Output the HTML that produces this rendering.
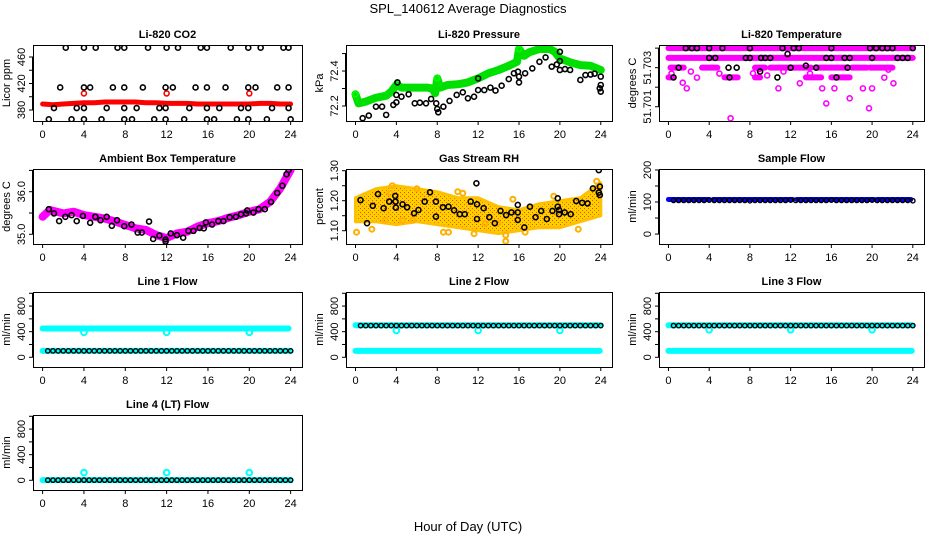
<!DOCTYPE html>
<html><head><meta charset="utf-8"><title>SPL_140612 Average Diagnostics</title>
<style>
html,body{margin:0;padding:0;background:#fff;}
svg{display:block;font-family:"Liberation Sans",Arial,sans-serif;}
</style></head>
<body>
<svg id="chart" width="936" height="540" viewBox="0 0 936 540" xmlns="http://www.w3.org/2000/svg">
<defs>
<pattern id="rhpat" width="4" height="4" patternUnits="userSpaceOnUse">
<rect width="4" height="4" fill="#ffd000"/><rect x="0" y="0" width="1" height="1" fill="#ff4000"/><rect x="2" y="2" width="1" height="1" fill="#ff6000"/>
</pattern>
</defs>
<text x="468" y="13" text-anchor="middle" font-size="13">SPL_140612  Average Diagnostics</text>
<text x="468" y="531" text-anchor="middle" font-size="13">Hour of Day (UTC)</text>
</svg>
<script>
// ---------- data ----------
const xTicks = [0,4,8,12,16,20,24];
const halfHours = [0.5,1,1.5,2,2.5,3,3.5,4,4.5,5,5.5,6,6.5,7,7.5,8,8.5,9,9.5,10,10.5,11,11.5,12,12.5,13,13.5,14,14.5,15,15.5,16,16.5,17,17.5,18,18.5,19,19.5,20,20.5,21,21.5,22,22.5,23,23.5,24];

// CO2
const co2RedHours = [0,1,2,3,4,5,6,7,8,9,10,11,12,13,14,15,16,17,18,19,20,21,22,23,24];
const co2RedVals  = [389,388,389,390,391,391,392,392,392,392,391,391,390,390,390,389,389,389,389,389,389,390,390,389,389];
const co2RedOutHours = [4,12,20];
const co2RedOutVals = [405,405,405];
const co2BlackHours = [2.24,4.0,5.14,7.25,7.9,10.2,12.0,13.1,15.3,15.9,18.2,19.9,21.1,23.3,23.8,
 1.7,4.0,4.6,6.8,7.9,9.7,11.9,12.6,14.8,15.9,17.7,19.9,20.6,22.7,23.8,
 1.1,3.3,4.0,6.2,7.9,9.1,11.3,11.9,14.2,15.9,17.1,19.2,19.9,22.2,23.8,
 0.6,2.8,4.0,5.7,7.9,8.65,10.8,11.9,13.7,15.9,16.6,18.8,19.9,21.7,24.0];
const co2BlackVals = [474,474,474,474,474,474,474,474,474,474,474,474,474,474,474,
 414,414,414,414,414,414,414,414,414,414,414,414,414,414,414,
 383,383,383,383,383,383,383,383,383,383,383,383,383,383,383,
 366,366,366,366,366,366,366,366,366,366,366,366,366,366,366];

// Pressure
const presGreenHours = [0,0.3,1,2,3,3.5,4,4.5,5,6,7,7.5,7.8,8,8.3,9,10,11,12,13,14,15,15.8,16,16.5,17,18,19,19.5,20,21,22,23,24];
const presGreenVals  = [72.267,72.215,72.225,72.247,72.259,72.282,72.32,72.305,72.305,72.305,72.305,72.300,72.273,72.358,72.305,72.32,72.324,72.335,72.358,72.387,72.406,72.43,72.453,72.526,72.487,72.507,72.526,72.526,72.51,72.472,72.45,72.434,72.43,72.406];
const presBlackHours = [0.7,1.3,2.0,2.6,3.0,3.7,4.0,4.0,4.1,4.5,5.2,5.8,6.3,6.9,7.4,7.9,8.0,8.1,8.6,9.2,9.9,10.5,11.0,11.6,12.0,12.0,12.6,13.2,13.7,14.3,15.0,15.5,15.9,16.0,16.0,16.6,17.3,18.0,18.6,19.2,19.7,20.0,20.0,20.0,20.5,21.0,22.0,22.5,23.0,23.4,24.0,24.0,24.0,23.9];
const presBlackVals  = [72.130,72.145,72.196,72.196,72.149,72.206,72.221,72.263,72.335,72.253,72.267,72.215,72.219,72.215,72.240,72.215,72.183,72.164,72.196,72.229,72.263,72.278,72.244,72.253,72.291,72.358,72.291,72.305,72.288,72.316,72.354,72.387,72.396,72.368,72.335,72.387,72.415,72.453,72.478,72.425,72.438,72.406,72.457,72.510,72.411,72.406,72.349,72.377,72.380,72.385,72.368,72.320,72.282,72.301];

// Li-820 temperature
const tempBandLevels = [51.7040,51.7035,51.7030,51.7030,51.7030,51.7030,51.7030,51.7030,51.7030,51.7025,51.7025,51.7025,51.7025,51.7025];
const tempBandStart  = [0,0,0.2,3.3,8.5,10,14.5,18,19.8,0,5.5,8.5,13.5,16];
const tempBandEnd    = [24,24,1.5,4.8,9.5,14,17.5,19.5,22,0.5,6.8,9,15,17.8];
const tempScatHours = [1.4,1.8,2.8,6.1,8.3,10.8,12.9,15.1,15.5,16.3,17.8,19.1,19.7,20.0,22.1,21.2,8.9,0.3,2.2,5.0,9.7,11.3,13.9,21.6];
const tempScatVals  = [51.70223,51.70194,51.70249,51.70041,51.70271,51.70194,51.7022,51.70194,51.70117,51.70194,51.70143,51.70194,51.70092,51.70194,51.7022,51.70249,51.70293,51.7027,51.7028,51.7027,51.7026,51.7028,51.7027,51.7029];
const tempBlackHours = [1.7,2.3,2.8,4.0,5.3,8.0,11.2,12.3,12.8,16.0,19.8,20.4,21.0,21.5,22.0,24.0,
 4.0,4.6,7.6,8.0,9.1,9.5,10.0,15.5,16.0,17.3,17.8,20.0,22.5,23.0,23.5,
 1.0,5.9,6.7,12.0,13.5,14.5,17.6,0.5,6.0,10.7,16.5,9.0,11.7];
const tempBlackVals = [51.704,51.704,51.704,51.704,51.704,51.704,51.704,51.704,51.704,51.704,51.704,51.704,51.704,51.704,51.704,51.704,
 51.7035,51.7035,51.7035,51.7035,51.7035,51.7035,51.7035,51.7035,51.7035,51.7035,51.7035,51.7035,51.7035,51.7035,51.7035,
 51.703,51.703,51.703,51.703,51.7031,51.703,51.703,51.7025,51.7025,51.7025,51.7025,51.7028,51.7037];

// Ambient box temperature
const ambHours = [0,0.7,2,3,4,5,6,7,8,9,10,11,12,13,14,15,16,17,18,19,20,21,22,23,24];
const ambVals  = [35.41,35.57,35.49,35.53,35.45,35.41,35.37,35.30,35.22,35.14,35.10,34.98,34.91,35.02,35.06,35.18,35.26,35.31,35.39,35.45,35.53,35.59,35.76,36.08,36.51];
const ambBlackHours = [0.6,1.1,1.6,2.2,2.8,3.3,3.9,4.6,5.1,5.6,6.2,6.7,7.2,7.9,8.6,9.2,9.6,10.3,10.7,11.3,11.9,11.9,12.4,13.0,13.6,14.1,14.6,15.2,15.6,15.8,16.4,17.0,17.5,18.1,18.7,19.2,19.7,19.8,20.4,20.9,21.5,22.1,22.7,23.2,23.6,23.8];
const ambBlackVals  = [35.59,35.49,35.31,35.41,35.45,35.31,35.43,35.27,35.41,35.33,35.41,35.20,35.33,35.19,35.23,35.04,35.04,35.30,34.89,34.97,34.88,34.83,35.02,34.98,34.92,35.08,35.08,35.15,35.14,35.28,35.23,35.31,35.31,35.40,35.41,35.47,35.49,35.56,35.51,35.59,35.59,35.76,35.97,36.14,36.41,36.51];

// Gas stream RH
const rhBandHours = [0,2,4,6,8,10,12,14,16,18,20,22,24];
const rhUpper = [1.21,1.24,1.25,1.24,1.23,1.21,1.21,1.18,1.17,1.19,1.20,1.21,1.26];
const rhLower = [1.13,1.13,1.12,1.13,1.12,1.11,1.10,1.09,1.10,1.11,1.11,1.13,1.15];
const rhScatHours = [0.1,1.6,2.9,3.6,4.6,5.6,6.0,8.6,9.1,10.0,11.6,12.7,13.9,14.7,14.7,15.4,16.6,19.4,21.8,23.6,3.4,10.5];
const rhScatVals  = [1.095,1.105,1.135,1.25,1.135,1.135,1.24,1.095,1.095,1.23,1.09,1.125,1.125,1.085,1.065,1.205,1.095,1.215,1.105,1.265,1.225,1.225];
const rhBlackHours = [0.49,1.13,1.69,2.2,2.75,3.3,3.89,3.92,3.95,4.6,5.05,5.73,6.16,6.77,7.29,7.87,7.87,8.55,9.1,9.65,10.2,10.69,11.27,11.83,11.89,11.89,12.54,13.1,13.63,14.19,14.74,15.26,15.88,15.88,15.88,16.52,17.07,17.62,18.17,18.72,19.27,19.79,19.79,19.92,19.92,20.47,21.06,21.6,22.18,22.71,23.23,23.81,23.81,23.91,23.91];
const rhBlackVals  = [1.202,1.125,1.183,1.222,1.175,1.197,1.216,1.197,1.177,1.188,1.178,1.158,1.169,1.197,1.228,1.197,1.147,1.178,1.18,1.168,1.155,1.155,1.197,1.258,1.188,1.139,1.175,1.145,1.125,1.166,1.152,1.161,1.186,1.161,1.136,1.111,1.18,1.145,1.166,1.139,1.166,1.208,1.18,1.169,1.155,1.161,1.155,1.199,1.193,1.191,1.241,1.302,1.227,1.247,1.219];

// Sample flow
const sampleBandStart = [0,4.4,12.6,20.5];
const sampleBandEnd   = [4.0,12.2,20.2,23.8];
const sampleBandLevel = [108,108,108,108];
const sampleBlackVals = [105,105,105,105,105,105,105,106,105,105,105,105,105,105,105,104,105,105,105,105,105,105,105,106,105,105,105,105,105,105,105,106,105,105,105,105,105,105,105,106,105,105,105,105,105,105,105,104];

// Line flows
const line1CyanStart = [0,0];
const line1CyanEnd   = [23.8,24];
const line1CyanLevel = [450,100];
const line1OutHours = [4,12,20];
const line1OutVals  = [390,390,390];
const line1BlackVals = [100,100,100,100,100,100,100,100,100,100,100,100,100,100,100,100,100,100,100,100,100,100,100,100,100,100,100,100,100,100,100,100,100,100,100,100,100,100,100,100,100,100,100,100,100,100,100,100];

const line2CyanStart = [0,0];
const line2CyanEnd   = [24,23.9];
const line2CyanLevel = [500,100];
const line2OutHours = [4,12,20];
const line2OutVals  = [420,420,420];
const line2BlackVals = [495,495,495,495,495,495,495,495,495,495,495,495,495,495,495,495,495,495,495,495,495,495,495,495,495,495,495,495,495,495,495,495,495,495,495,495,495,495,495,495,495,495,495,495,495,495,495,495];

const line3CyanStart = [0,0];
const line3CyanEnd   = [23.9,23.9];
const line3CyanLevel = [500,100];
const line3OutHours = [4,12,20];
const line3OutVals  = [430,430,430];
const line3BlackVals = [495,495,495,495,495,495,495,495,495,495,495,495,495,495,495,495,495,495,495,495,495,495,495,495,495,495,495,495,495,495,495,495,495,495,495,495,495,495,495,495,495,495,495,495,495,495,495,495];

const line4CyanStart = [0];
const line4CyanEnd   = [24];
const line4CyanLevel = [3];
const line4OutHours = [4,12,20];
const line4OutVals  = [120,120,120];
const line4BlackVals = [2,2,2,2,2,2,2,2,2,2,2,2,2,2,2,2,2,2,2,2,2,2,2,2,2,2,2,2,2,2,2,2,2,2,2,2,2,2,2,2,2,2,2,2,2,2,2,2];

// ---------- drawing ----------
const NS = 'http://www.w3.org/2000/svg';
const svg = document.getElementById('chart');
function mk(tag, attrs, parent){
  const e = document.createElementNS(NS, tag);
  for (const k in attrs) e.setAttribute(k, attrs[k]);
  (parent||svg).appendChild(e);
  return e;
}
const XD = [-0.93, 25.1];
const COLS = [{x:33,w:269},{x:346,w:266},{x:659,w:265}];
const ROWS = [{y:45,h:76},{y:169,h:75},{y:292,h:75},{y:415,h:75}];

function panel(c, r, name, title, ylab, yd, yticks, ylabels){
  const g = mk('g', {});
  
  
  const X0 = COLS[c].x, W = COLS[c].w, Y0 = ROWS[r].y, H = ROWS[r].h;
  const sx = v => X0 + (v - XD[0]) / (XD[1]-XD[0]) * W;
  const sy = v => Y0 + H - (v - yd[0]) / (yd[1]-yd[0]) * H;
  const t = mk('text', {x: X0 + W/2, y: Y0 - 7, 'text-anchor':'middle', 'font-size':11, 'font-weight':'bold'}, g);
  t.textContent = title;
  
  
  const ax = mk('g', {}, g);
  
  
  mk('line', {x1:sx(0), x2:sx(24), y1:Y0+H+0.5, y2:Y0+H+0.5, stroke:'#000'}, ax);
  xTicks.forEach(v => {
    mk('line', {x1:sx(v), x2:sx(v), y1:Y0+H, y2:Y0+H+4, stroke:'#000'}, ax);
    const tl = mk('text', {x:sx(v), y:Y0+H+17, 'text-anchor':'middle', 'font-size':11}, ax);
    tl.textContent = v;
    
    
  });
  const ay = mk('g', {}, g);
  
  
  mk('line', {x1:X0-0.5, x2:X0-0.5, y1:sy(yticks[0]), y2:sy(yticks[yticks.length-1]), stroke:'#000'}, ay);
  yticks.forEach(v => {
    mk('line', {x1:X0-4, x2:X0, y1:sy(v), y2:sy(v), stroke:'#000'}, ay);
  });
  ylabels.forEach(v => {
    const yy = sy(parseFloat(v));
    const tl = mk('text', {x:0, y:0, 'text-anchor':'middle', 'font-size':11, transform:`translate(${X0-8},${yy}) rotate(-90)`}, ay);
    tl.textContent = v;
    
    
  });
  const yl = mk('text', {x:0, y:0, 'text-anchor':'middle', 'font-size':11, transform:`translate(${X0-23},${Y0+H/2}) rotate(-90)`}, g);
  yl.textContent = ylab;
  
  
  const clip = 'clip' + c + r;
  const cp = mk('clipPath', {id:clip}, g);
  mk('rect', {x:X0, y:Y0, width:W, height:H}, cp);
  const plot = mk('g', {'clip-path':`url(#${clip})`}, g);
  
  
  const box = mk('rect', {x:X0+0.5, y:Y0+0.5, width:W, height:H, fill:'none', stroke:'#000'}, g);
  
  
  return {sx, sy, plot};
}
function points(p, hrs, vals, color, nm, r, sw){
  hrs.forEach((h,i) => {
    const c = mk('circle', {cx:p.sx(h), cy:p.sy(vals[i]), r:r||2.5, fill:'none', stroke:color, 'stroke-width':sw||1.6}, p.plot);
    
    
  });
}
function band(p, hrs, vals, color, width, nm){
  const d = hrs.map((h,i) => (i?'L':'M') + p.sx(h).toFixed(1) + ' ' + p.sy(vals[i]).toFixed(1)).join(' ');
  const e = mk('path', {d, fill:'none', stroke:color, 'stroke-width':width, 'stroke-linecap':'round', 'stroke-linejoin':'round'}, p.plot);
  
  
}
function segs(p, st, en, lv, color, width, nm){
  st.forEach((s,i) => {
    const e = mk('line', {x1:p.sx(s), x2:p.sx(en[i]), y1:p.sy(lv[i]), y2:p.sy(lv[i]), stroke:color, 'stroke-width':width, 'stroke-linecap':'round'}, p.plot);
    
    
  });
}

// CO2
let p = panel(0,0,'co2','Li-820 CO2','Licor ppm',[363.4,478.1],[380,400,420,440,460],['380','420','460']);
band(p, co2RedHours, co2RedVals, '#ff0000', 5, 'co2-red-series');
points(p, co2RedOutHours, co2RedOutVals, '#ff0000', 'co2-red-outlier');
points(p, co2BlackHours, co2BlackVals, '#000', 'co2-black-point');

// Pressure
p = panel(1,0,'pressure','Li-820 Pressure','kPa',[72.114,72.549],[72.2,72.3,72.4,72.5],['72.2','72.4']);
band(p, presGreenHours, presGreenVals, '#00e000', 8, 'pressure-green-series');
points(p, [0,4.1,8.0,12.0,16.0,20.0], [72.267,72.335,72.358,72.358,72.526,72.51], '#00ff00', 'pressure-green-point');
points(p, presBlackHours, presBlackVals, '#000', 'pressure-black-point');

// Temperature
p = panel(2,0,'li820-temp','Li-820 Temperature','degrees C',[51.70027,51.70416],[51.701,51.702,51.703,51.704],['51.701','51.703']);
segs(p, tempBandStart, tempBandEnd, tempBandLevels, '#ff00ff', 6, 'temp-magenta-band');
points(p, tempScatHours, tempScatVals, '#ff00ff', 'temp-magenta-point');
points(p, tempBlackHours, tempBlackVals, '#000', 'temp-black-point');

// Ambient
p = panel(0,1,'ambient','Ambient Box Temperature','degrees C',[34.772,36.533],[35,35.5,36,36.5],['35.0','36.0']);
band(p, ambHours, ambVals, '#ff00ff', 8, 'ambient-magenta-series');
points(p, ambBlackHours, ambBlackVals, '#000', 'ambient-black-point');

// RH
p = panel(1,1,'rh','Gas Stream RH','percent',[1.0557,1.3057],[1.10,1.15,1.20,1.25,1.30],['1.10','1.20','1.30']);
{
  const up = rhBandHours.map((h,i)=>p.sx(h).toFixed(1)+','+p.sy(rhUpper[i]).toFixed(1));
  const lo = rhBandHours.map((h,i)=>p.sx(h).toFixed(1)+','+p.sy(rhLower[i]).toFixed(1)).reverse();
  const poly = mk('polygon', {points: up.concat(lo).join(' '), fill:'url(#rhpat)', stroke:'#ffc000', 'stroke-width':3, 'stroke-linejoin':'round'}, p.plot);
  
  
}
points(p, rhScatHours, rhScatVals, '#ffb000', 'rh-orange-point', 2.5, 2);
points(p, rhBlackHours, rhBlackVals, '#000', 'rh-black-point');

// Sample flow
p = panel(2,1,'sample-flow','Sample Flow','ml/min',[-31,203],[0,50,100,150,200],['0','100','200']);
segs(p, sampleBandStart, sampleBandEnd, sampleBandLevel, '#0000ff', 5, 'sample-blue-band');
points(p, halfHours, sampleBlackVals, '#000', 'sample-black-point', 2.2, 1.4);

const flowTicks = [0,200,400,600,800,1000];
const flowLabels = ['0','400','800'];
// Line 1
p = panel(0,2,'line1-flow','Line 1 Flow','ml/min',[-152,1020],flowTicks,flowLabels);
segs(p, line1CyanStart, line1CyanEnd, line1CyanLevel, '#00ffff', 6, 'line1-cyan-band');
points(p, line1OutHours, line1OutVals, '#00ffff', 'line1-cyan-outlier', 2.8, 2);
points(p, halfHours, line1BlackVals, '#000', 'line1-black-point', 2.2, 1.4);
// Line 2
p = panel(1,2,'line2-flow','Line 2 Flow','ml/min',[-152,1020],flowTicks,flowLabels);
segs(p, line2CyanStart, line2CyanEnd, line2CyanLevel, '#00ffff', 6, 'line2-cyan-band');
points(p, line2OutHours, line2OutVals, '#00ffff', 'line2-cyan-outlier', 2.8, 2);
points(p, halfHours, line2BlackVals, '#000', 'line2-black-point', 2.2, 1.4);
// Line 3
p = panel(2,2,'line3-flow','Line 3 Flow','ml/min',[-152,1020],flowTicks,flowLabels);
segs(p, line3CyanStart, line3CyanEnd, line3CyanLevel, '#00ffff', 6, 'line3-cyan-band');
points(p, line3OutHours, line3OutVals, '#00ffff', 'line3-cyan-outlier', 2.8, 2);
points(p, halfHours, line3BlackVals, '#000', 'line3-black-point', 2.2, 1.4);
// Line 4
p = panel(0,3,'line4-flow','Line 4 (LT) Flow','ml/min',[-152,1020],flowTicks,flowLabels);
segs(p, line4CyanStart, line4CyanEnd, line4CyanLevel, '#00ffff', 6, 'line4-cyan-band');
points(p, line4OutHours, line4OutVals, '#00ffff', 'line4-cyan-outlier', 2.8, 2);
points(p, halfHours, line4BlackVals, '#000', 'line4-black-point', 2.2, 1.4);
</script>
</body></html>
